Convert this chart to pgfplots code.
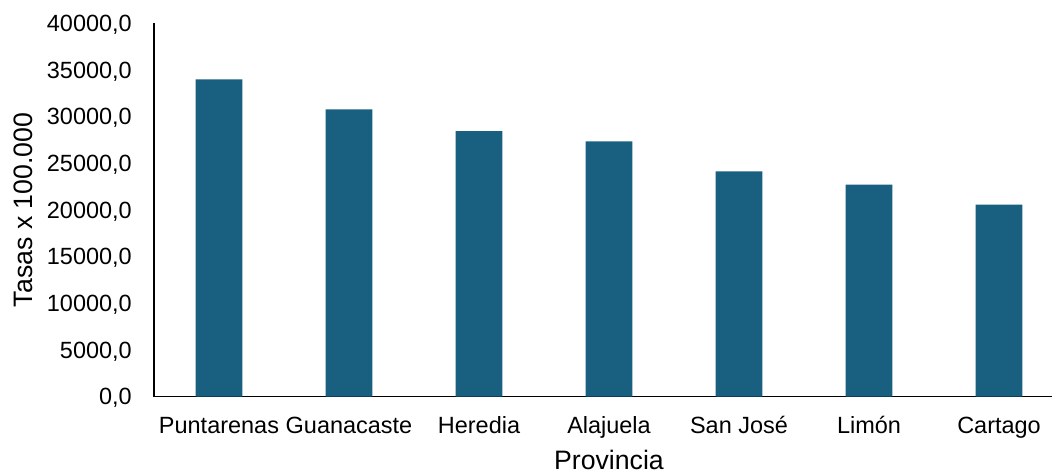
\documentclass[border=0pt]{standalone}
\usepackage{fontspec}
\setmainfont{Liberation Sans}
\usepackage{pgfplots}
\pgfplotsset{compat=1.18}
\definecolor{barblue}{RGB}{24,95,128}
\begin{document}
\begin{tikzpicture}
\path[use as bounding box] (0,0) rectangle (789pt,355.5pt);
\begin{axis}[
  at={(115.5pt,58.1pt)}, anchor=south west,
  scale only axis, width=682.5pt, height=279.9pt,
  xmin=-0.5, xmax=6.5, ymin=0, ymax=40000,
  axis x line*=bottom, axis y line*=left,
  axis line style={line width=1.4pt, black},
  xtick=data,
  xticklabels={Puntarenas,Guanacaste,Heredia,Alajuela,San José,Limón,Cartago},
  ytick={0,5000,...,40000},
  major tick length=0pt,
  scaled y ticks=false,
  /pgf/number format/fixed,
  /pgf/number format/fixed zerofill,
  /pgf/number format/precision=1,
  /pgf/number format/use comma,
  /pgf/number format/1000 sep={},
  /pgf/number format/assume math mode=true,
  tick label style={font=\fontsize{17.6}{20}\selectfont, inner sep=0pt},
  yticklabel style={anchor=east, xshift=-16.5pt, text depth=0pt},
  xticklabel style={anchor=base, yshift=-28.1pt},
  every axis x label/.style={at={(axis description cs:0.5,0)}, anchor=base,
    yshift=-55.1pt, inner sep=0pt, font=\fontsize{20}{24}\selectfont},
  every axis y label/.style={at={(axis description cs:-0.133,0.5)}, rotate=90,
    anchor=base, inner sep=0pt, font=\fontsize{20}{24}\selectfont},
  xlabel={Provincia},
  ylabel={Tasas x 100.000},
]
\addplot[ybar, bar width=34.9pt, fill=barblue, draw=none] coordinates {
  (0,34000) (1,30780) (2,28460) (3,27350) (4,24140) (5,22700) (6,20560)
};
\end{axis}
\end{tikzpicture}
\end{document}
